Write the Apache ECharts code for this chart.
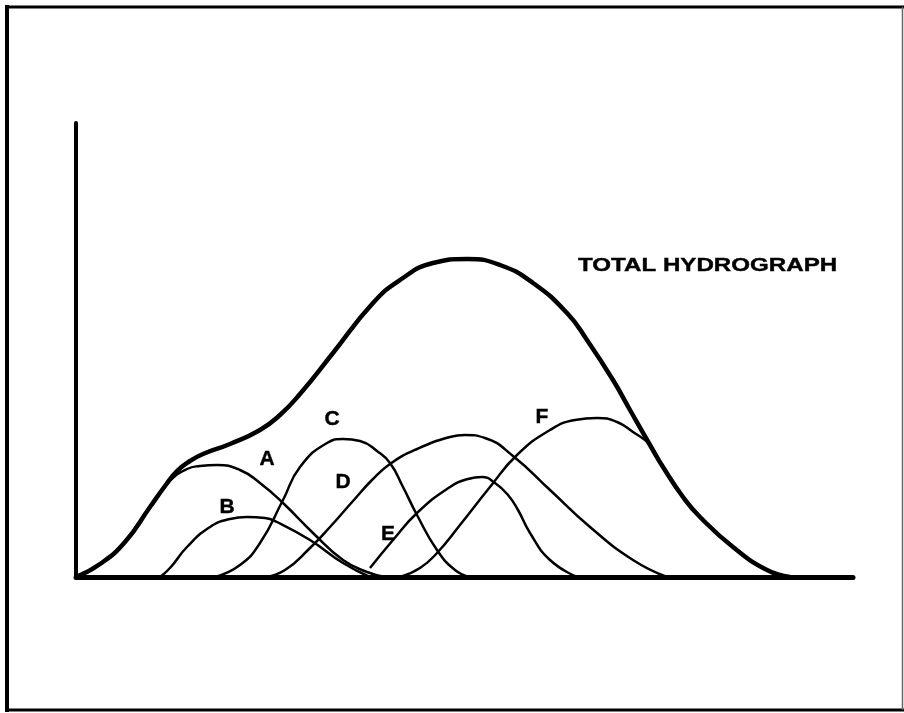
<!DOCTYPE html>
<html>
<head>
<meta charset="utf-8">
<script src="https://cdn.jsdelivr.net/npm/echarts@6/dist/echarts.min.js"></script>
<style>
html,body{margin:0;padding:0;background:#fff;}
#chart{width:904px;height:713px;}
</style>
</head>
<body>
<div id="chart"></div>
<script>
// Values: [time, discharge]
const totalHydrograph = [[0,0],[24,13],[49,35],[74,70],[89,91],[101,106],[114,116],[127,123],[154,133],[184,147],[204,162],[224,183],[257,224],[297,274],[324,297],[357,314],[391,318],[424,312],[457,294],[491,264],[511,237],[537,197],[554,167],[574,132],[587,110],[607,80],[624,60],[657,30],[691,7],[714,0]];
const curveA = [[0,0],[24,13],[49,35],[74,70],[94,96],[111,108],[124,111],[141,112],[164,107],[184,94],[207,74],[237,44],[267,17],[291,5],[309,0]];
const curveB = [[84,0],[94,9],[111,30],[134,50],[154,58],[171,60],[189,59],[201,55],[234,37],[267,14],[294,0]];
const curveC = [[139,0],[164,12],[184,34],[207,77],[224,110],[251,134],[267,138],[284,136],[301,126],[314,114],[327,90],[341,62],[361,27],[379,7],[394,0]];
const curveD = [[189,0],[209,7],[234,29],[254,50],[277,76],[296,97],[314,113],[341,128],[374,140],[389,142],[409,139],[437,121],[474,87],[514,50],[557,17],[591,0]];
const curveE = [[294,9],[317,37],[341,64],[374,90],[392,98],[406,100],[419,94],[432,82],[442,67],[454,44],[474,17],[501,0]];
const curveF = [[324,0],[344,9],[361,24],[384,52],[414,90],[441,122],[474,147],[499,157],[521,159],[541,155],[557,145],[574,132],[587,110],[607,80],[624,60],[657,30],[691,7],[714,0]];
const curveLabels = ['A','B','C','D','E','F'];
const totalLabel = 'TOTAL HYDROGRAPH';

const chart = echarts.init(document.getElementById('chart'));
const thin = (name, data) => ({
  name, type:'line', data, smooth:0.5, symbol:'none', silent:true,
  lineStyle:{color:'#000', width:2.5}
});
const labelPos = {A:[267,459],B:[227,507],C:[332,419],D:[343,482],E:[388,534],F:[542,417]};
const graphics = [
  {type:'line', shape:{x1:7,y1:5,x2:7,y2:712}, style:{stroke:'#000', lineWidth:4}},
  {type:'line', shape:{x1:5,y1:7,x2:904,y2:7}, style:{stroke:'#000', lineWidth:3}},
  {type:'line', shape:{x1:5,y1:710,x2:904,y2:710}, style:{stroke:'#000', lineWidth:3}},
  {type:'line', shape:{x1:902.5,y1:7,x2:902.5,y2:710}, style:{stroke:'#666', lineWidth:1.5}},
  {type:'text', x:578, y:266, scaleX:1.27, style:{text:totalLabel, fill:'#000', font:'bold 19px "Liberation Sans", Arial, sans-serif', textVerticalAlign:'middle', textAlign:'left', stroke:'#000', lineWidth:0.4}}
];
curveLabels.forEach(l => {
  graphics.push({type:'text', x:labelPos[l][0], y:labelPos[l][1], style:{text:l, fill:'#000', font:'bold 21px "Liberation Sans", Arial, sans-serif', textAlign:'center', textVerticalAlign:'middle', stroke:'#000', lineWidth:0.4}});
});
chart.setOption({
  animation:false,
  backgroundColor:'#fff',
  grid:{left:76, top:123, width:777, height:454},
  xAxis:{type:'value', min:0, max:777, axisLine:{show:true, onZero:false, lineStyle:{color:'#000', width:5}}, axisTick:{show:false}, axisLabel:{show:false}, splitLine:{show:false}},
  yAxis:{type:'value', min:0, max:454, axisLine:{show:true, onZero:false, lineStyle:{color:'#000', width:4}}, axisTick:{show:false}, axisLabel:{show:false}, splitLine:{show:false}},
  series:[
    thin('A', curveA), thin('B', curveB), thin('C', curveC), thin('D', curveD), thin('E', curveE), thin('F', curveF),
    {name:'Total', type:'line', data:totalHydrograph, smooth:0.5, symbol:'none', silent:true, lineStyle:{color:'#000', width:4.5}, z:3}
  ],
  graphic:graphics
});
</script>
</body>
</html>
